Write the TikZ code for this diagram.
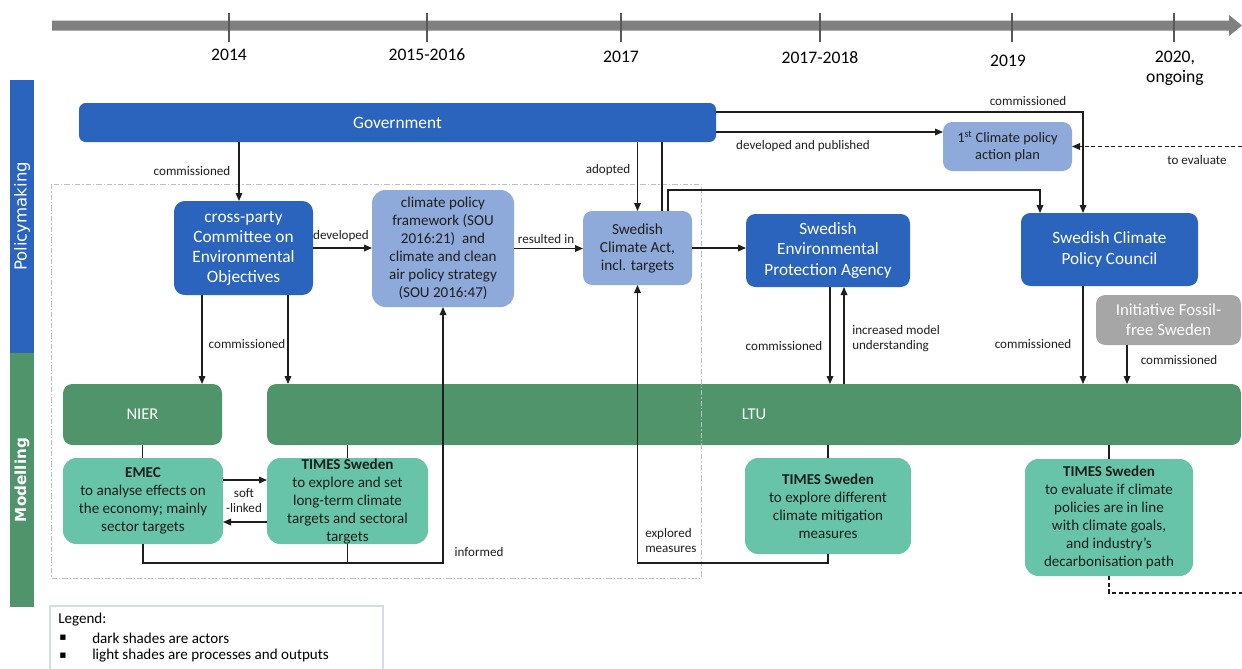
\documentclass[tikz,border=0pt]{standalone}
\usepackage{fontspec}
\setmainfont{Carlito}
\newfontfamily\sidefont{DejaVu Sans}
\usetikzlibrary{arrows.meta,calc}
\definecolor{cDark}{HTML}{2A64BD}
\definecolor{cLight}{HTML}{8EAADB}
\definecolor{cGreen}{HTML}{4F946A}
\definecolor{cTeal}{HTML}{67C4A8}
\definecolor{cGray}{HTML}{A6A6A6}
\definecolor{cBar}{HTML}{808080}
\definecolor{cTick}{HTML}{595959}
\definecolor{cTxt}{HTML}{1E1E1E}
\definecolor{cFrame}{HTML}{BFBFBF}
\definecolor{cLeg}{HTML}{D5DCE6}
\begin{document}
\begin{tikzpicture}[x=0.75pt,y=-0.75pt,
  sz/.style 2 args={minimum width=#1*0.75pt, minimum height=#2*0.75pt},
  base/.style={inner sep=0pt, outer sep=0pt, align=center, rounded corners=7pt},
  actor/.style={base, fill=cDark, text=white, font=\fontsize{12.9}{15.5}\selectfont},
  proc/.style={base, fill=cLight, text=cTxt},
  modact/.style={base, fill=cGreen, text=white, font=\fontsize{12.4}{15}\selectfont},
  modproc/.style={base, fill=cTeal, text=cTxt, rounded corners=10pt, font=\fontsize{11.3}{13.5}\selectfont},
  sidebar/.style={inner sep=0pt, outer sep=0pt, rotate=90, text=white},
  lbl/.style={inner sep=0pt, align=center, text=cTxt, font=\fontsize{9.8}{11.25}\selectfont},
  year/.style={inner sep=0pt, align=center, text=black, font=\fontsize{13.2}{15}\selectfont},
  arr/.style={-{Triangle[length=6pt,width=5pt]}, line width=0.85pt, draw=cTxt},
  ln/.style={line width=0.85pt, draw=cTxt},
  dsh/.style={line width=0.85pt, draw=cTxt, dash pattern=on 3pt off 2pt}
]
\useasboundingbox (0,0) rectangle (1242,668);

% timeline
\fill[cBar] (52,20.5) -- (1229,20.5) -- (1229,15) -- (1242,25.5) -- (1229,36) -- (1229,30.5) -- (52,30.5) -- cycle;
\foreach \x in {229,427,621,820,1012,1174} \draw[cTick, line width=1.1pt] (\x,13) -- (\x,42);
\node[year] (y1) at (229,55) {2014};
\node[year] (y2) at (427,55) {2015-2016};
\node[year] (y3) at (621,57) {2017};
\node[year] (y4) at (820,58) {2017-2018};
\node[year] (y5) at (1008,61) {2019};
\node[year, font=\fontsize{13.2}{15}\selectfont] (y6) at (1175,68) {2020,\\ongoing};

% side bars
\node[sidebar, fill=cDark, sz={273}{24}, font=\sidefont\fontsize{12.4}{14}\selectfont] (pm) at (22,216.5) {Policymaking};
\node[sidebar, fill=cGreen, sz={254}{24}, font=\sidefont\bfseries\fontsize{11.4}{14}\selectfont] (mo) at (22,480) {Modelling};

% boxes
\node[actor, sz={637}{39}, rounded corners=5pt, font=\fontsize{13}{15}\selectfont] (gov) at (397.5,122.5) {Government};
\node[proc, sz={129}{49}, font=\fontsize{10.8}{13}\selectfont] (plan) at (1007.5,146.5) {1\textsuperscript{st} Climate policy\\action plan};
\node[actor, sz={139}{94}, rounded corners=8pt, font=\fontsize{13}{15}\selectfont] (cmt) at (243.5,248) {cross-party\\Committee on\\Environmental\\Objectives};
\node[proc, sz={142}{117}, rounded corners=10pt, font=\fontsize{11.3}{13.5}\selectfont] (fw) at (443,248.5) {climate policy\\framework (SOU\\2016:21)~ and\\climate and clean\\air policy strategy\\(SOU 2016:47)};
\node[proc, sz={109}{74}, font=\fontsize{11.5}{13.5}\selectfont] (act) at (637.5,248) {Swedish\\Climate Act,\\incl. targets};
\node[actor, sz={164}{73}] (epa) at (828,250.5) {Swedish\\Environmental\\Protection Agency};
\node[actor, sz={177}{73}] (cpc) at (1109.5,249.5) {Swedish Climate\\Policy Council};
\node[actor, fill=cGray, sz={145}{50}, font=\fontsize{12.6}{15}\selectfont] (ifs) at (1168.5,320) {Initiative Fossil-\\free Sweden};
\node[modact, sz={159}{61}] (nier) at (142.5,414.5) {NIER};
\node[modact, sz={974}{61}] (ltu) at (754,414.5) {LTU};
\node[modproc, sz={160}{86}] (emec) at (143,501) {\textbf{EMEC}\\to analyse effects on\\the economy; mainly\\sector targets};
\node[modproc, sz={161}{86}] (t1) at (347.5,501) {\textbf{TIMES Sweden}\\to explore and set\\long-term climate\\targets and sectoral\\targets};
\node[modproc, sz={166}{96}] (t2) at (828,506) {\textbf{TIMES Sweden}\\to explore different\\climate mitigation\\measures};
\node[modproc, sz={168}{117}] (t3) at (1109,517.5) {\textbf{TIMES Sweden}\\to evaluate if climate\\policies are in line\\with climate goals,\\and industry’s\\decarbonisation path};

% dash-dot frame
\draw[cFrame, line width=0.6pt, dash pattern=on 4pt off 1.5pt on 1pt off 1.5pt] (51,184) rectangle (701,578);

% free ends
\coordinate (ev) at (1242,146.5);
\coordinate (ev2) at (1242,593);

% connectors
\path ($(cmt.north)+(-4.5,0)$) coordinate (c1);
\draw[arr] (c1 |- gov.south) -- (c1);
\draw[arr] (act.north |- gov.south) -- (act.north);
\path ($(act.north)+(24.5,0)$) coordinate (c2);
\draw[ln] (c2) -- (c2 |- gov.south);
\path ($(act.north)+(30.5,0)$) coordinate (c3);
\path ($(cpc.north)+(-69.5,0)$) coordinate (c4);
\draw[arr] (c3) -- ++(0,-21) -| (c4);
\path ($(gov.north east)+(0,9)$) coordinate (c5);
\path ($(cpc.north)+(-26.5,0)$) coordinate (c6);
\draw[arr] (c5) -| (c6);
\path ($(gov.south east)+(0,-10)$) coordinate (c7);
\draw[arr] (c7) -- (c7 -| plan.west);
\draw[arr, dash pattern=on 3pt off 2pt] (ev) -- (plan.east);
\draw[dsh] (t3.south) |- (ev2);
\draw[arr] (cmt.east) -- (cmt.east -| fw.west);
\draw[arr] (fw.east) -- (fw.east -| act.west);
\draw[arr] (act.east) -- (act.east -| epa.west);
\path ($(cmt.south west)+(28,0)$) coordinate (c8);
\draw[arr] (c8) -- (c8 |- nier.north);
\path ($(cmt.south east)+(-25,0)$) coordinate (c9);
\draw[arr] (c9) -- (c9 |- ltu.north);
\path ($(epa.south)+(2,0)$) coordinate (c10);
\draw[arr] (c10) -- (c10 |- ltu.north);
\path ($(epa.south)+(16,0)$) coordinate (c11);
\draw[arr] (c11 |- ltu.north) -- (c11);
\draw[arr] (c6 |- cpc.south) -- (c6 |- ltu.north);
\path ($(ifs.south)+(-41.5,0)$) coordinate (c12);
\draw[arr] (c12) -- (c12 |- ltu.north);
\draw[ln] (nier.south) -- (nier.south |- emec.north);
\draw[ln] (t1.north) -- (t1.north |- ltu.south);
\draw[ln] (t2.north) -- (t2.north |- ltu.south);
\draw[ln] (t3.north) -- (t3.north |- ltu.south);
\path ($(emec.north east)+(0,22)$) coordinate (c13);
\draw[arr] (c13) -- (c13 -| t1.west);
\path ($(t1.south west)+(0,-22)$) coordinate (c14);
\draw[arr] (c14) -- (c14 -| emec.east);
\draw[arr] (emec.south) -- ++(0,19) coordinate (c15) -| (fw.south);
\draw[ln] (t1.south) -- (t1.south |- c15);
\draw[arr] (t2.south) -- ++(0,9) -| (act.south);

% labels
\node[lbl] (l1) at (192,171) {commissioned};
\node[lbl] (l2) at (608,170) {adopted};
\node[lbl] (l3) at (803,146) {developed and published};
\node[lbl] (l4) at (1028,101) {commissioned};
\node[lbl] (l5) at (1197,160) {to evaluate};
\node[lbl] (l6) at (341,236) {developed};
\node[lbl] (l7) at (546,239) {resulted in};
\node[lbl] (l8) at (247,344) {commissioned};
\node[lbl] (l9) at (784,346) {commissioned};
\node[lbl, anchor=west, align=left] (l10) at (852,338.5) {increased model\\understanding};
\node[lbl] (l11) at (1033,344) {commissioned};
\node[lbl] (l12) at (1179,360) {commissioned};
\node[lbl] (l13) at (244,500.5) {soft\\-linked};
\node[lbl] (l14) at (479,552) {informed};
\node[lbl, anchor=west, align=left] (l15) at (645,540.5) {explored\\measures};

% legend
\draw[cLeg, line width=0.8pt] (50,606) rectangle (383,690);
\node[inner sep=0pt, anchor=west, font=\fontsize{11.3}{13}\selectfont] (lg0) at (58,620) {Legend:};
\node[inner sep=0pt, font=\sidefont\fontsize{8}{9}\selectfont] (lb1) at (63,638) {▪};
\node[inner sep=0pt, font=\sidefont\fontsize{8}{9}\selectfont] (lb2) at (63,656) {▪};
\node[inner sep=0pt, anchor=west, font=\fontsize{11.3}{13}\selectfont] (lg1) at (92,638) {dark shades are actors};
\node[inner sep=0pt, anchor=west, font=\fontsize{11.3}{13}\selectfont] (lg2) at (92,656) {light shades are processes and outputs};
\end{tikzpicture}
\end{document}
